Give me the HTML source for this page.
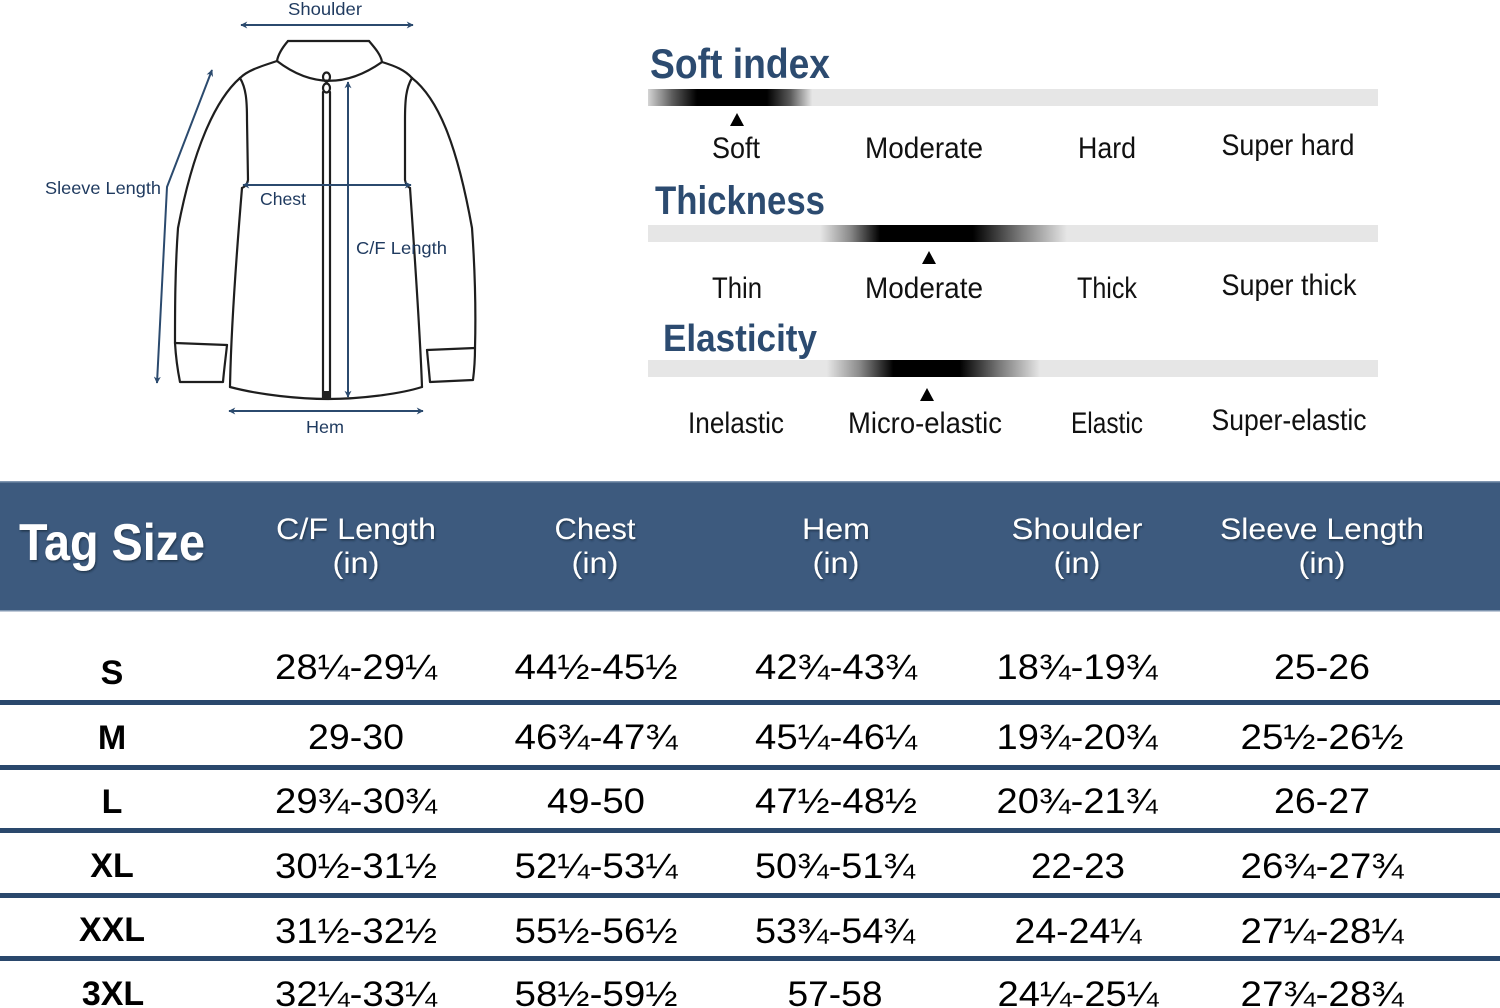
<!DOCTYPE html>
<html>
<head>
<meta charset="utf-8">
<style>
  html,body{margin:0;padding:0;background:#fff;}
  body{width:1500px;height:1008px;overflow:hidden;}
  svg{display:block;}
  .t{font-family:"Liberation Sans",Arial,sans-serif;}
</style>
</head>
<body>
<svg width="1500" height="1008" viewBox="0 0 1500 1008" xmlns="http://www.w3.org/2000/svg">
  <defs>
    <marker id="ar" viewBox="0 0 10 10" refX="9" refY="5" markerWidth="7" markerHeight="7" orient="auto-start-reverse" markerUnits="userSpaceOnUse">
      <path d="M0,0 L10,5 L0,10 L3,5 Z" fill="#2b4a6e"/>
    </marker>
    <linearGradient id="g1" gradientUnits="userSpaceOnUse" x1="648" y1="0" x2="1378" y2="0">
      <stop offset="0" stop-color="#d4d4d4"/>
      <stop offset="0.034" stop-color="#5a5a5a"/>
      <stop offset="0.067" stop-color="#000"/>
      <stop offset="0.163" stop-color="#000"/>
      <stop offset="0.195" stop-color="#5a5a5a"/>
      <stop offset="0.225" stop-color="#e6e6e6"/>
      <stop offset="1" stop-color="#e6e6e6"/>
    </linearGradient>
    <linearGradient id="g2" gradientUnits="userSpaceOnUse" x1="648" y1="0" x2="1378" y2="0">
      <stop offset="0" stop-color="#e6e6e6"/>
      <stop offset="0.236" stop-color="#e6e6e6"/>
      <stop offset="0.277" stop-color="#8a8a8a"/>
      <stop offset="0.318" stop-color="#000"/>
      <stop offset="0.445" stop-color="#000"/>
      <stop offset="0.51" stop-color="#7a7a7a"/>
      <stop offset="0.574" stop-color="#e6e6e6"/>
      <stop offset="1" stop-color="#e6e6e6"/>
    </linearGradient>
    <linearGradient id="g3" gradientUnits="userSpaceOnUse" x1="648" y1="0" x2="1378" y2="0">
      <stop offset="0" stop-color="#e6e6e6"/>
      <stop offset="0.245" stop-color="#e6e6e6"/>
      <stop offset="0.29" stop-color="#8a8a8a"/>
      <stop offset="0.336" stop-color="#000"/>
      <stop offset="0.427" stop-color="#000"/>
      <stop offset="0.482" stop-color="#7a7a7a"/>
      <stop offset="0.537" stop-color="#e6e6e6"/>
      <stop offset="1" stop-color="#e6e6e6"/>
    </linearGradient>
    <filter id="sh" x="-10%" y="-20%" width="120%" height="150%">
      <feDropShadow dx="1" dy="1.5" stdDeviation="1" flood-color="#1a2a40" flood-opacity="0.8"/>
    </filter>
  </defs>

  <!-- ===== Jacket drawing ===== -->
  <g fill="none" stroke="#1e1e1e" stroke-width="2.2" stroke-linecap="round" stroke-linejoin="round">
    <!-- collar -->
    <path d="M288,41 L369,41"/>
    <path d="M288,41 C282,48 278,55 277,61"/>
    <path d="M369,41 C375,48 381,55 382,62"/>
    <path d="M277,61 Q328,100 382,62"/>
    <!-- shoulders -->
    <path d="M277,61 C262,66 248,70 240,78"/>
    <path d="M382,62 C395,66 405,70 412,78"/>
    <!-- left sleeve -->
    <path d="M240,78 C215,100 193,150 178,228 C175,270 175,310 175,343"/>
    <path d="M175,343 L227,345"/>
    <path d="M175,343 C176,360 178,372 180,382 L223,382 C224,370 226,355 227,345"/>
    <path d="M240,78 C246,88 247,100 247,120 L248,180 Q247,186 242,188"/>
    <path d="M242,188 C236,260 231,330 230,387"/>
    <!-- right sleeve -->
    <path d="M412,78 C440,100 458,150 472,228 C475,270 476,310 475,348"/>
    <path d="M427,350 L475,348"/>
    <path d="M475,348 C475,360 474,372 473,380 L430,382 C429,372 428,360 427,350"/>
    <path d="M412,78 C406,88 405,100 405,120 L405,180 Q406,186 410,188"/>
    <path d="M410,188 C415,260 420,330 422,387"/>
    <!-- hem -->
    <path d="M230,387 C260,395 300,399 328,399 C360,399 400,394 422,387"/>
    <!-- zipper -->
    <path d="M323,92 L323,398"/>
    <path d="M330,92 L330,398"/>
    <ellipse cx="326.5" cy="77" rx="3.5" ry="4.5"/>
    <ellipse cx="326.5" cy="88" rx="3.5" ry="4.5"/>
  </g>
  <rect x="322" y="391" width="9" height="8" fill="#222"/>

  <!-- dimension lines -->
  <g fill="none" stroke="#2b4a6e" stroke-width="2" marker-start="url(#ar)" marker-end="url(#ar)">
    <path d="M241,25 L413,25"/>
    <path d="M212,70 L167,187 L157,383"/>
    <path d="M243,185 L411,185"/>
    <path d="M348,82 L348,397"/>
    <path d="M229,411 L423,411"/>
  </g>
  <g class="t" fill="#1f3a5f" font-size="17.5">
    <text x="325" y="15" text-anchor="middle" textLength="74" lengthAdjust="spacingAndGlyphs">Shoulder</text>
    <text x="45" y="194" textLength="116" lengthAdjust="spacingAndGlyphs">Sleeve Length</text>
    <text x="260" y="205" textLength="46" lengthAdjust="spacingAndGlyphs">Chest</text>
    <text x="356" y="254" textLength="91" lengthAdjust="spacingAndGlyphs">C/F Length</text>
    <text x="325" y="433" text-anchor="middle" textLength="38" lengthAdjust="spacingAndGlyphs">Hem</text>
  </g>

  <!-- ===== Index bars ===== -->
  <g class="t" fill="#2c4b70" font-weight="bold">
    <text x="650" y="78" font-size="42" textLength="180" lengthAdjust="spacingAndGlyphs">Soft index</text>
    <text x="655" y="214" font-size="40" textLength="170" lengthAdjust="spacingAndGlyphs">Thickness</text>
    <text x="663" y="351" font-size="38" textLength="154" lengthAdjust="spacingAndGlyphs">Elasticity</text>
  </g>
  <rect x="648" y="89" width="730" height="17" fill="url(#g1)"/>
  <rect x="648" y="225" width="730" height="17" fill="url(#g2)"/>
  <rect x="648" y="360" width="730" height="17" fill="url(#g3)"/>
  <path d="M730,126 L737,113 L744,126 Z" fill="#000"/>
  <path d="M922,264 L929,251 L936,264 Z" fill="#000"/>
  <path d="M920,401 L927,388 L934,401 Z" fill="#000"/>

  <g class="t" fill="#111" font-size="30" text-anchor="middle">
    <text x="736" y="158" textLength="48" lengthAdjust="spacingAndGlyphs">Soft</text>
    <text x="924" y="158" textLength="118" lengthAdjust="spacingAndGlyphs">Moderate</text>
    <text x="1107" y="158" textLength="58" lengthAdjust="spacingAndGlyphs">Hard</text>
    <text x="1288" y="155" textLength="133" lengthAdjust="spacingAndGlyphs">Super hard</text>

    <text x="737" y="298" textLength="50" lengthAdjust="spacingAndGlyphs">Thin</text>
    <text x="924" y="298" textLength="118" lengthAdjust="spacingAndGlyphs">Moderate</text>
    <text x="1107" y="298" textLength="60" lengthAdjust="spacingAndGlyphs">Thick</text>
    <text x="1289" y="295" textLength="135" lengthAdjust="spacingAndGlyphs">Super thick</text>

    <text x="736" y="433" textLength="96" lengthAdjust="spacingAndGlyphs">Inelastic</text>
    <text x="925" y="433" textLength="154" lengthAdjust="spacingAndGlyphs">Micro-elastic</text>
    <text x="1107" y="433" textLength="72" lengthAdjust="spacingAndGlyphs">Elastic</text>
    <text x="1289" y="430" textLength="155" lengthAdjust="spacingAndGlyphs">Super-elastic</text>
  </g>

  <!-- ===== Table ===== -->
  <rect x="0" y="482" width="1500" height="129" fill="#3d5a7e"/>
  <rect x="0" y="481" width="1500" height="1.5" fill="#8096b0"/>
  <rect x="0" y="610" width="1500" height="1.5" fill="#8096b0"/>
  <g class="t" fill="#fff" filter="url(#sh)">
    <text x="19" y="560" font-size="52" font-weight="bold" textLength="186" lengthAdjust="spacingAndGlyphs">Tag Size</text>
    <g font-size="30" text-anchor="middle">
      <text x="356" y="539" textLength="160" lengthAdjust="spacingAndGlyphs">C/F Length</text>
      <text x="356" y="573" textLength="47" lengthAdjust="spacingAndGlyphs">(in)</text>
      <text x="595" y="539" textLength="81" lengthAdjust="spacingAndGlyphs">Chest</text>
      <text x="595" y="573" textLength="47" lengthAdjust="spacingAndGlyphs">(in)</text>
      <text x="836" y="539" textLength="68" lengthAdjust="spacingAndGlyphs">Hem</text>
      <text x="836" y="573" textLength="47" lengthAdjust="spacingAndGlyphs">(in)</text>
      <text x="1077" y="539" textLength="131" lengthAdjust="spacingAndGlyphs">Shoulder</text>
      <text x="1077" y="573" textLength="47" lengthAdjust="spacingAndGlyphs">(in)</text>
      <text x="1322" y="539" textLength="204" lengthAdjust="spacingAndGlyphs">Sleeve Length</text>
      <text x="1322" y="573" textLength="47" lengthAdjust="spacingAndGlyphs">(in)</text>
    </g>
  </g>

  <!-- separators -->
  <g fill="#2a486c">
    <rect x="0" y="700" width="1500" height="5"/>
    <rect x="0" y="765" width="1500" height="5"/>
    <rect x="0" y="828" width="1500" height="5"/>
    <rect x="0" y="893" width="1500" height="5"/>
    <rect x="0" y="956" width="1500" height="5"/>
  </g>

  <!-- row labels -->
  <g class="t" fill="#000" font-size="34" font-weight="bold" text-anchor="middle">
    <text x="112" y="684">S</text>
    <text x="112" y="749">M</text>
    <text x="112" y="813">L</text>
    <text x="112" y="877">XL</text>
    <text x="112" y="941">XXL</text>
    <text x="113" y="1005">3XL</text>
  </g>

  <!-- data -->
  <g class="t" fill="#000" font-size="35" text-anchor="middle">
    <!-- S -->
    <text x="356" y="679" textLength="162" lengthAdjust="spacingAndGlyphs">28¼-29¼</text>
    <text x="596" y="679" textLength="163" lengthAdjust="spacingAndGlyphs">44½-45½</text>
    <text x="836" y="679" textLength="162" lengthAdjust="spacingAndGlyphs">42¾-43¾</text>
    <text x="1077" y="679" textLength="161" lengthAdjust="spacingAndGlyphs">18¾-19¾</text>
    <text x="1322" y="679" textLength="96" lengthAdjust="spacingAndGlyphs">25-26</text>
    <!-- M -->
    <text x="356" y="749" textLength="96" lengthAdjust="spacingAndGlyphs">29-30</text>
    <text x="596" y="749" textLength="163" lengthAdjust="spacingAndGlyphs">46¾-47¾</text>
    <text x="836" y="749" textLength="162" lengthAdjust="spacingAndGlyphs">45¼-46¼</text>
    <text x="1077" y="749" textLength="161" lengthAdjust="spacingAndGlyphs">19¾-20¾</text>
    <text x="1322" y="749" textLength="163" lengthAdjust="spacingAndGlyphs">25½-26½</text>
    <!-- L -->
    <text x="356" y="813" textLength="162" lengthAdjust="spacingAndGlyphs">29¾-30¾</text>
    <text x="596" y="813" textLength="98" lengthAdjust="spacingAndGlyphs">49-50</text>
    <text x="836" y="813" textLength="162" lengthAdjust="spacingAndGlyphs">47½-48½</text>
    <text x="1077" y="813" textLength="161" lengthAdjust="spacingAndGlyphs">20¾-21¾</text>
    <text x="1322" y="813" textLength="96" lengthAdjust="spacingAndGlyphs">26-27</text>
    <!-- XL -->
    <text x="356" y="878" textLength="162" lengthAdjust="spacingAndGlyphs">30½-31½</text>
    <text x="596" y="878" textLength="163" lengthAdjust="spacingAndGlyphs">52¼-53¼</text>
    <text x="835" y="878" textLength="160" lengthAdjust="spacingAndGlyphs">50¾-51¾</text>
    <text x="1078" y="878" textLength="94" lengthAdjust="spacingAndGlyphs">22-23</text>
    <text x="1322" y="878" textLength="163" lengthAdjust="spacingAndGlyphs">26¾-27¾</text>
    <!-- XXL -->
    <text x="356" y="943" textLength="162" lengthAdjust="spacingAndGlyphs">31½-32½</text>
    <text x="596" y="943" textLength="163" lengthAdjust="spacingAndGlyphs">55½-56½</text>
    <text x="835" y="943" textLength="160" lengthAdjust="spacingAndGlyphs">53¾-54¾</text>
    <text x="1078" y="943" textLength="127" lengthAdjust="spacingAndGlyphs">24-24¼</text>
    <text x="1322" y="943" textLength="163" lengthAdjust="spacingAndGlyphs">27¼-28¼</text>
    <!-- 3XL -->
    <text x="356" y="1006" textLength="162" lengthAdjust="spacingAndGlyphs">32¼-33¼</text>
    <text x="596" y="1006" textLength="163" lengthAdjust="spacingAndGlyphs">58½-59½</text>
    <text x="835" y="1006" textLength="95" lengthAdjust="spacingAndGlyphs">57-58</text>
    <text x="1078" y="1006" textLength="161" lengthAdjust="spacingAndGlyphs">24¼-25¼</text>
    <text x="1322" y="1006" textLength="163" lengthAdjust="spacingAndGlyphs">27¾-28¾</text>
  </g>
</svg>
</body>
</html>
